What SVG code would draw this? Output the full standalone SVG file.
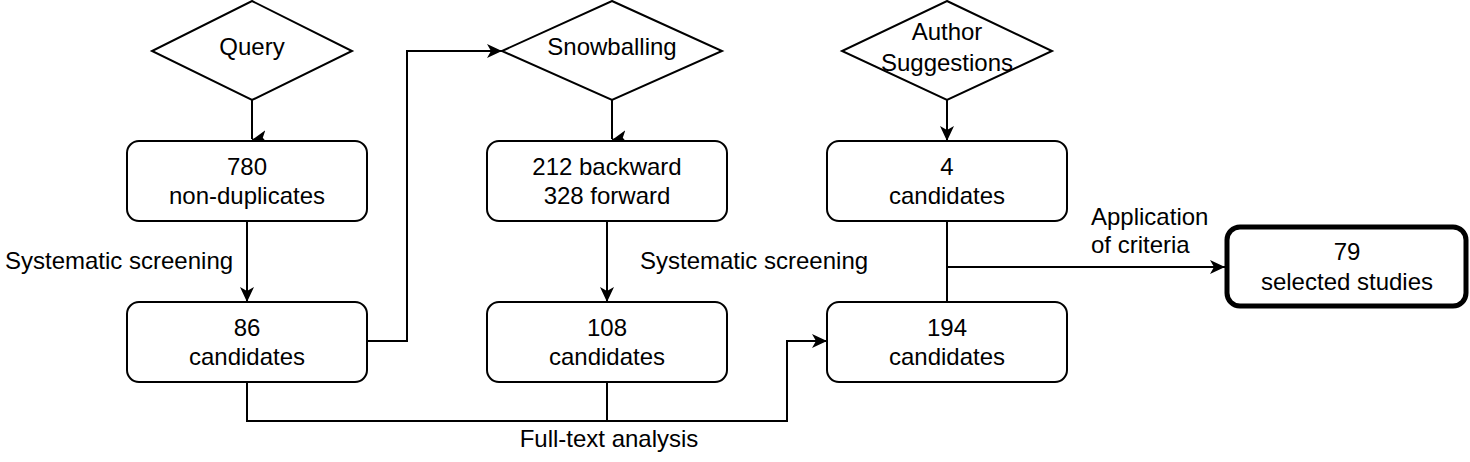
<svg xmlns="http://www.w3.org/2000/svg" width="1470" height="462" viewBox="0 0 1470 462">
<style>
  .shape { fill: #ffffff; stroke: #000000; stroke-width: 2; }
  .bold { stroke-width: 5; }
  .edge { fill: none; stroke: #000000; stroke-width: 2; }
  text { font-family: "Liberation Sans", Arial, Helvetica, sans-serif; font-size: 24px; fill: #000000; }
  .c { text-anchor: middle; }
</style>
<defs>
  <marker id="arrow" markerUnits="userSpaceOnUse" viewBox="0 0 16 16" markerWidth="16" markerHeight="16" refX="15" refY="8" orient="auto">
    <path d="M0,1 L15,8 L0,15 L4,8 Z" fill="#000000"/>
  </marker>
</defs>
<rect width="1470" height="462" fill="#ffffff"/>
<g id="connectors">
  <path class="edge" d="M252,100 V139"/>
  <path class="edge" d="M262,138 L252,140" marker-end="url(#arrow)"/>
  <path class="edge" d="M247,221 V302" marker-end="url(#arrow)"/>
  <path class="edge" d="M367,341 H407 V51 H502" marker-end="url(#arrow)"/>
  <path class="edge" d="M612,100 V139"/>
  <path class="edge" d="M622,138 L612,140" marker-end="url(#arrow)"/>
  <path class="edge" d="M607,221 V302" marker-end="url(#arrow)"/>
  <path class="edge" d="M247,382 V421 H787 V341 H827" marker-end="url(#arrow)"/>
  <path class="edge" d="M607,382 V421"/>
  <path class="edge" d="M947,100 V141" marker-end="url(#arrow)"/>
  <path class="edge" d="M947,221 V302"/>
  <path class="edge" d="M947,267 H1225" marker-end="url(#arrow)"/>
  <text x="5" y="269">Systematic screening</text>
  <text x="640" y="269">Systematic screening</text>
  <text x="609" y="447" class="c">Full-text analysis</text>
  <text x="1091" y="225">Application</text>
  <text x="1091" y="253">of criteria</text>
</g>
<g id="query">
  <polygon class="shape" points="252,1 352,51 252,100 152,51"/>
  <text x="252" y="55" class="c">Query</text>
</g>
<g id="snowballing">
  <polygon class="shape" points="612,1 722,51 612,100 502,51"/>
  <text x="612" y="55" class="c">Snowballing</text>
</g>
<g id="author">
  <polygon class="shape" points="947,1 1052,51 947,100 842,51"/>
  <text x="947" y="40" class="c">Author</text>
  <text x="947" y="71" class="c">Suggestions</text>
</g>
<g id="n780">
  <rect class="shape" x="127" y="141" width="240" height="80" rx="12"/>
  <text x="247" y="175" class="c">780</text>
  <text x="247" y="204" class="c">non-duplicates</text>
</g>
<g id="n86">
  <rect class="shape" x="127" y="302" width="240" height="80" rx="12"/>
  <text x="247" y="336" class="c">86</text>
  <text x="247" y="365" class="c">candidates</text>
</g>
<g id="n212">
  <rect class="shape" x="487" y="141" width="240" height="80" rx="12"/>
  <text x="607" y="175" class="c">212 backward</text>
  <text x="607" y="204" class="c">328 forward</text>
</g>
<g id="n108">
  <rect class="shape" x="487" y="302" width="240" height="80" rx="12"/>
  <text x="607" y="336" class="c">108</text>
  <text x="607" y="365" class="c">candidates</text>
</g>
<g id="n4">
  <rect class="shape" x="827" y="141" width="240" height="80" rx="12"/>
  <text x="947" y="175" class="c">4</text>
  <text x="947" y="204" class="c">candidates</text>
</g>
<g id="n194">
  <rect class="shape" x="827" y="302" width="240" height="80" rx="12"/>
  <text x="947" y="336" class="c">194</text>
  <text x="947" y="365" class="c">candidates</text>
</g>
<g id="n79">
  <rect class="shape bold" x="1227" y="227" width="239" height="79" rx="13"/>
  <text x="1347" y="260" class="c">79</text>
  <text x="1347" y="290" class="c">selected studies</text>
</g>
</svg>
